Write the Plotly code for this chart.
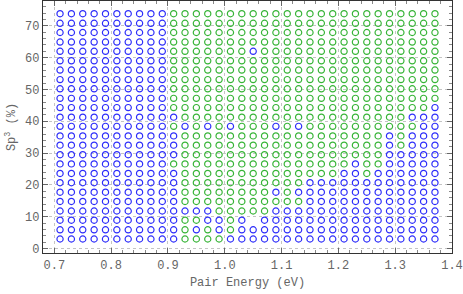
import plotly.graph_objects as go

# Pair energy (eV) columns
x_values = [0.71, 0.73, 0.75, 0.77, 0.79, 0.81, 0.83, 0.85, 0.87, 0.89,
            0.91, 0.93, 0.95, 0.97, 0.99, 1.01, 1.03, 1.05, 1.07, 1.09,
            1.11, 1.13, 1.15, 1.17, 1.19, 1.21, 1.23, 1.25, 1.27, 1.29,
            1.31, 1.33, 1.35, 1.37]

# Sp3 (%) rows, top to bottom
y_values = [73.8, 70.8, 67.9, 64.9, 62.0, 59.0, 56.1, 53.1, 50.2, 47.2,
            44.3, 41.3, 38.4, 35.4, 32.5, 29.5, 26.6, 23.6, 20.7, 17.7,
            14.8, 11.8, 8.9, 5.9, 3.0]

# Class of each grid point: B = blue, G = green, . = no point
grid_rows = [
    "BBBBBBBBBB" + "GGGGGGGGGGGGGGGGGGGGGGGG",
    "BBBBBBBBBB" + "GGGGGGGGGGGGGGGGGGGGGGGG",
    "BBBBBBBBBB" + "GGGGGGGGGGGGGGGGGGGGGGGG",
    "BBBBBBBBBB" + "GGGGGGGGGGGGGGGGGGGGGGGG",
    "BBBBBBBBBB" + "GGGGGGGBGGGGGGGGGGGGGGGG",
    "BBBBBBBBBB" + "GGGGGGGGGGGGGGGGGGGGGGGG",
    "BBBBBBBBBB" + "GGGGGGGGGGGGGGGGGGGGGGGG",
    "BBBBBBBBBB" + "GGGGGGGGGGGGGGGGGGGGGGGG",
    "BBBBBBBBBB" + "GGGGGGGGGGGGGGGGGGGGGGGG",
    "BBBBBBBBBB" + "GGGGGGGGGGGGGGGGGGGGGGGG",
    "BBBBBBBBBB" + "GGGGGGGGGGGGGGGGGGGGGGGB",
    "BBBBBBBBBB" + "BGGGGGGGGGGGGGGGGGGGGBBB",
    "BBBBBBBBBB" + "GBGBGBGGGBGBGGGGGGGGGGBB",
    "BBBBBBBBBB" + "BGGGGGGGGGGGGGGGGGGBGBBB",
    "BBBBBBBBBB" + "BGGGGGGGGGGGGGGGGGGBGBBB",
    "BBBBBBBBBB" + "BGGGGGGGGGGGGGGGGGGBBBBB",
    "BBBBBBBBBB" + "GGGGGGGGGGGGGGGGBGGBBBBB",
    "BBBBBBBBBB" + "BGGGGGGGGGGGGGGBBGBBBBBB",
    "BBBBBBBBBB" + "BGGGGGGGGGGGBBBBBBBBBBBB",
    "BBBBBBBBBB" + "BGGGGGGGGBGBBBBBBBBBBBBB",
    "BBBBBBBBBB" + "BGGGGGGGGGGGBBBBBBBBBBBB",
    "BBBBBBBBBB" + "BBBBGGGGGBBBBBBBBBBBBBBB",
    "BBBBBBBBBB" + "BGGBBGB.BBBBBBBBBBBBBBBB",
    "BBBBBBBBBB" + "BGBGBGBBBBBBBBBBBBBBBBBB",
    "BBBBBBBBBB" + "BGGGGBBBBBBBBBBBBBBBBBBB",
]

class_colors = {"B": "rgb(45,45,250)", "G": "rgb(55,180,55)"}

fig = go.Figure()
for code, color in class_colors.items():
    xs, ys = [], []
    for yi, row in zip(y_values, grid_rows):
        for xi, c in zip(x_values, row):
            if c == code:
                xs.append(xi)
                ys.append(yi)
    fig.add_trace(go.Scatter(
        x=xs, y=ys, mode="markers",
        marker=dict(symbol="circle-open", size=6.2, color=color,
                    line=dict(width=1.2, color=color)),
        hoverinfo="x+y", showlegend=False))

font_family = "Liberation Mono"
txt_color = "#666666"
axis_common = dict(
    showline=True, linecolor="#333333", linewidth=1.3, mirror="allticks",
    ticks="inside", ticklen=5, tickwidth=1, tickcolor="#666666",
    showgrid=True, gridcolor="#c4c4c4", griddash="dot", gridwidth=1,
    zeroline=False,
    tickfont=dict(family=font_family, size=12, color=txt_color),
)

fig.update_xaxes(
    range=[0.68, 1.4], tick0=0.7, dtick=0.1, tickformat=".1f",
    minor=dict(dtick=0.02, ticks="inside", ticklen=3, tickcolor="#888888", showgrid=False),
    title=dict(text="Pair Energy (eV)", font=dict(family=font_family, size=12, color=txt_color), standoff=6),
    **axis_common)
fig.update_yaxes(
    range=[-1.4, 77.8], tick0=0, dtick=10,
    minor=dict(dtick=2, ticks="inside", ticklen=3, tickcolor="#888888", showgrid=False),
    title=dict(text="Sp<sup>3</sup> (%)", font=dict(family=font_family, size=12, color=txt_color), standoff=6),
    **axis_common)

fig.update_layout(
    width=463, height=294,
    margin=dict(l=43, r=11, t=1, b=41),
    plot_bgcolor="white", paper_bgcolor="white",
    showlegend=False,
)

fig.write_html("out.html", config={"displayModeBar": False},
               post_script="document.body.style.margin='0px';")
